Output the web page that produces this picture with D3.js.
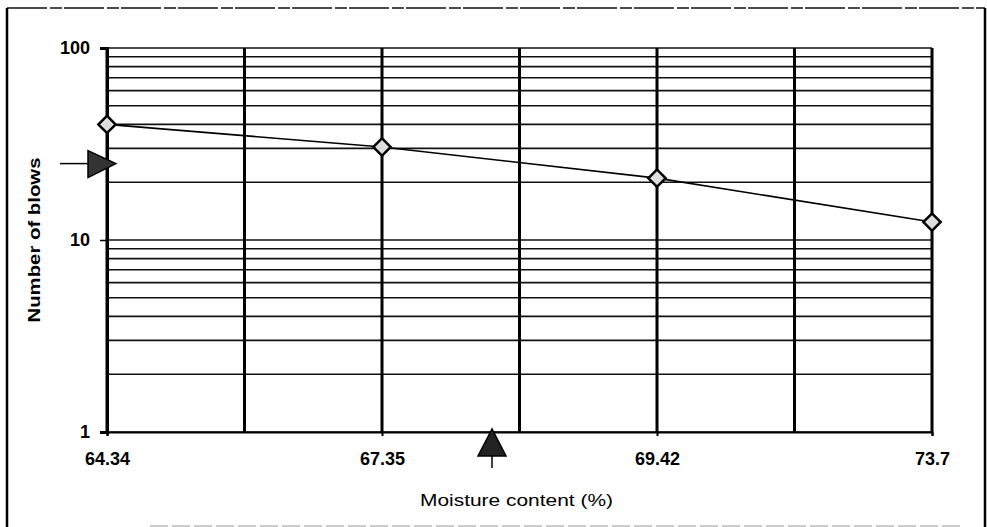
<!DOCTYPE html>
<html><head><meta charset="utf-8">
<script src="https://cdn.jsdelivr.net/npm/d3@7"></script>
<style>html,body{margin:0;padding:0;background:#fff;}svg{display:block;}</style>
</head><body>
<script>
const categories = ["64.34", "67.35", "69.42", "73.7"];
const blows = [40, 30.5, 21, 12.4];
const yTicks = [1, 10, 100];
const xTitle = "Moisture content (%)";
const yTitle = "Number of blows";
const arrowBlows = 25;      // left arrow at 25 blows
const arrowIndex = 1.4;     // bottom arrow position along category axis

const W = 987, H = 527;
const m = {left: 107, right: 932, top: 48, bottom: 432};

const svg = d3.select("body").append("svg").attr("width", W).attr("height", H);
const font = "'Liberation Sans', Arial, sans-serif";

// outer frame
svg.append("line").attr("x1", 7).attr("x2", 7).attr("y1", 8).attr("y2", 527).attr("stroke", "#000").attr("stroke-width", 2.5);
svg.append("line").attr("x1", 985).attr("x2", 985).attr("y1", 8).attr("y2", 527).attr("stroke", "#000").attr("stroke-width", 2.5);
svg.append("line").attr("x1", 7).attr("x2", 985).attr("y1", 8).attr("y2", 8).attr("stroke", "#111").attr("stroke-width", 1.5).attr("stroke-dasharray", "40,3,12,2");
svg.append("line").attr("x1", 150).attr("x2", 960).attr("y1", 526).attr("y2", 526).attr("stroke", "#bbb").attr("stroke-width", 1.5).attr("stroke-dasharray", "18,4");

const xi = d3.scaleLinear().domain([0, categories.length - 1]).range([m.left, m.right]);
const y = d3.scaleLog().domain([1, 100]).range([m.bottom, m.top]);

// horizontal gridlines (log minors)
const gridVals = [];
for (let d = 1; d < 100; d *= 10) for (let k = 1; k <= 9; k++) gridVals.push(d * k);
gridVals.push(100);
svg.append("g").selectAll("line").data(gridVals).join("line")
  .attr("x1", m.left).attr("x2", m.right)
  .attr("y1", d => y(d)).attr("y2", d => y(d))
  .attr("stroke", "#111").attr("stroke-width", 1.6);

// vertical gridlines at half-category intervals
const vIdx = d3.range(0, categories.length - 0.99, 0.5);
svg.append("g").selectAll("line").data(vIdx).join("line")
  .attr("x1", d => xi(d)).attr("x2", d => xi(d))
  .attr("y1", m.top).attr("y2", m.bottom)
  .attr("stroke", "#000").attr("stroke-width", 3);

// y axis
const yAxis = d3.axisLeft(y).tickValues(yTicks).tickFormat(d3.format("d")).tickSize(7).tickPadding(10);
const gy = svg.append("g").attr("transform", `translate(${m.left},0)`).call(yAxis);
gy.select(".domain").attr("stroke-width", 3);
gy.selectAll(".tick line").attr("stroke-width", 1.5);
gy.selectAll("text").attr("font-family", font).attr("font-weight", "bold").attr("font-size", 18).attr("fill", "#000");

// x axis
const xAxis = d3.axisBottom(xi).tickValues(d3.range(categories.length)).tickFormat(i => categories[i]).tickSize(4).tickPadding(16);
const gx = svg.append("g").attr("transform", `translate(0,${m.bottom})`).call(xAxis);
gx.select(".domain").attr("stroke-width", 2);
gx.selectAll(".tick line").attr("stroke-width", 2);
gx.selectAll("text").attr("font-family", font).attr("font-weight", "bold").attr("font-size", 18).attr("fill", "#000");

// titles
svg.append("text").attr("x", (m.left + m.right) / 2 - 3).attr("y", 506).attr("text-anchor", "middle")
  .attr("font-family", font).attr("font-size", 17).attr("textLength", 193).attr("lengthAdjust", "spacingAndGlyphs").text(xTitle);
svg.append("text").attr("transform", `translate(40,${(m.top + m.bottom) / 2}) rotate(-90)`).attr("text-anchor", "middle")
  .attr("font-family", font).attr("font-size", 17).attr("font-weight", "bold").attr("textLength", 165).attr("lengthAdjust", "spacingAndGlyphs").text(yTitle);

// data line
const pts = blows.map((b, i) => [xi(i), y(b)]);
svg.append("path").attr("d", d3.line()(pts)).attr("fill", "none").attr("stroke", "#000").attr("stroke-width", 1.6);

// markers (diamonds)
svg.append("g").selectAll("path").data(blows).join("path")
  .attr("d", d3.symbol().type(d3.symbolSquare).size(150))
  .attr("transform", (d, i) => `translate(${xi(i)},${y(d)}) rotate(45)`)
  .attr("fill", "#ddd").attr("stroke", "#000").attr("stroke-width", 2.5);

// left arrow at 25 blows
const ay = y(arrowBlows);
svg.append("line").attr("x1", 60).attr("x2", m.left - 18).attr("y1", ay).attr("y2", ay).attr("stroke", "#000").attr("stroke-width", 1.5);
svg.append("path").attr("d", `M${m.left + 9},${ay} L${m.left - 19},${ay - 13} L${m.left - 19},${ay + 14} Z`).attr("fill", "#333").attr("stroke", "#000").attr("stroke-width", 1.5);

// bottom arrow
const ax = xi(arrowIndex);
svg.append("line").attr("x1", ax).attr("x2", ax).attr("y1", m.bottom + 20).attr("y2", m.bottom + 36).attr("stroke", "#000").attr("stroke-width", 1.5);
svg.append("path").attr("d", `M${ax},${m.bottom - 3} L${ax - 14},${m.bottom + 24} L${ax + 14},${m.bottom + 24} Z`).attr("fill", "#222").attr("stroke", "#000").attr("stroke-width", 1.5);
</script>
</body></html>
